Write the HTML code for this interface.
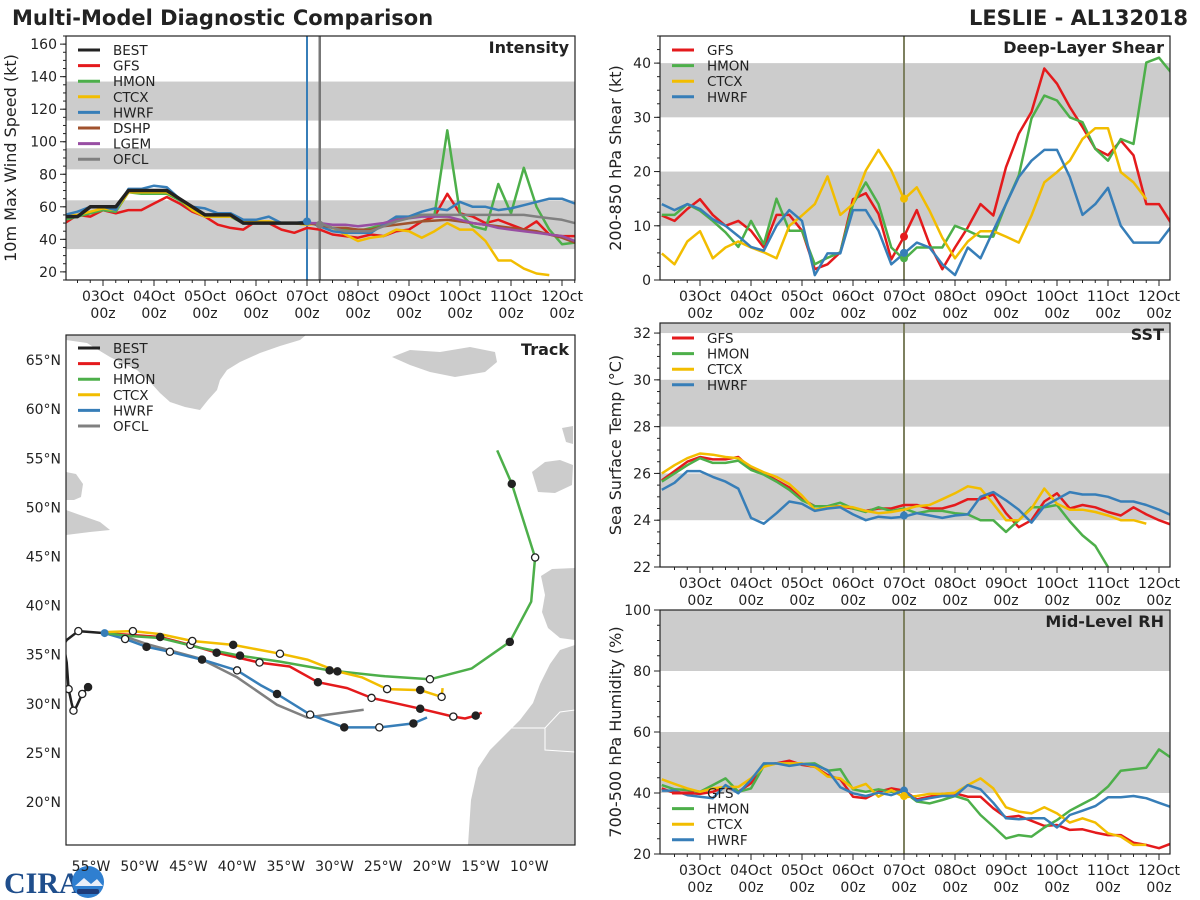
<!DOCTYPE html>
<html><head><meta charset="utf-8">
<style>
html,body{margin:0;padding:0;background:#fff;}
svg{display:block;font-family:"DejaVu Sans","Liberation Sans",sans-serif;}
</style></head>
<body>
<svg id="fig" width="1200" height="900" viewBox="0 0 1200 900" xmlns="http://www.w3.org/2000/svg">
<rect x="0" y="0" width="1200" height="900" fill="#fff"/>
<text x="12" y="25" font-size="21" font-weight="bold" fill="#222">Multi-Model Diagnostic Comparison</text>
<text x="1188" y="25" font-size="21" font-weight="bold" fill="#222" text-anchor="end">LESLIE - AL132018</text>
<g>
<text x="4" y="893" font-size="30" font-weight="bold" fill="#1f4e8c" font-family="Liberation Serif, serif">CIRA</text>
<circle cx="88" cy="882" r="16" fill="#2f7fd0"/>
<path d="M75 886 L84 878 L91 884 L97 879 L103 886 Z" fill="#e8eef8"/>
<rect x="77" y="889" width="22" height="5" rx="2" fill="#1d3c7a"/>
</g>
<g id="root"></g>
</svg>
<script>
// ---------------- DATA ----------------
// time index i => hours from 03Oct00z: t = -18 + 6*i
const intBEST = [54,54,60,60,60,70,70,70,70,65,60,55,55,55,50,50,50,50,50,50];
const intGFS  = [50,55,54,58,56,58,58,62,66,62,57,54,49,47,46,51,50,46,44,47,46,43,42,41,43,42,45,46,51,54,68,56,54,50,52,49,46,51,43,42,42];
const intHMON = [52,54,56,58,57,69,68,68,68,64,58,54,54,54,50,50,50,50,50,49,50,47,46,45,47,49,53,54,55,55,107,56,48,46,74,56,84,60,46,37,38];
const intCTCX = [54,55,57,59,58,69,69,69,69,65,58,54,54,54,51,51,51,50,50,49,50,47,43,39,41,42,46,45,41,45,50,46,46,39,27,27,22,19,18];
const intHWRF = [55,57,60,60,58,71,71,73,72,65,60,59,56,56,52,52,54,50,50,51,48,45,44,44,44,49,54,54,57,59,58,63,60,60,58,59,61,63,65,65,62];
const intDSHP = [50,49,47,47,46,46,48,49,50,51,51.5,52,51,50,49,48,47,46,45,43,41,38];
const intLGEM = [50,50,49,49,48,49,50,52,53,54,54,54,52,50,49,47,46,45,44,43,42,39];
const intOFCL = [50,47,45,45,45,48,51,53,55,55,55,55,55,55,55,55,55,54,53,52,50];

const shrGFS  = [11.9,10.9,13.1,14.9,12,10,10.9,9.1,6,12,12,9.1,2,2.9,5.1,14.9,16,12.2,3.8,8,12.9,6.6,2,6,9.7,14,11.9,20.8,27,31,39,36.2,31.9,28.2,24.2,23,25.7,23,14,14,10.3];
const shrHMON = [12,12,14,12.8,10.9,8.8,6.1,10.9,6.6,15,9.1,9.1,2.9,4.1,5.1,14,18,14,6,3.8,6,6,6,10,9.1,8,8,14,19.3,29.8,34,33.1,30,29.1,24.2,22,26,25.1,40.1,41,38.1];
const shrCTCX = [4.9,2.9,7.1,9,4,6,7.1,6,5.1,4,10,11.9,14,19.1,12,14,20.2,24,20.2,14.9,17.1,12.8,7.8,4,7.1,9,9,8,6.9,11.9,18,19.9,22,26,28,28,19.9,18,14.9];
const shrHWRF = [14,12.9,14,13.1,11.2,10,8.1,6.1,5.4,10,12.9,10.9,0.9,4.9,4.9,12.9,12.9,9.1,2.9,4.9,6.9,6,2.9,0.9,6,4,9.1,14,19,22,24,24,19,12,14,17,10,6.9,6.9,6.9,10];

const sstGFS  = [25.7,26.1,26.5,26.7,26.6,26.6,26.7,26.2,26.0,25.7,25.4,24.9,24.6,24.6,24.6,24.5,24.4,24.5,24.5,24.65,24.65,24.5,24.5,24.65,24.9,24.9,25.1,24.3,23.7,24.0,24.8,25.15,24.5,24.65,24.55,24.35,24.2,24.55,24.25,24.0,23.8];
const sstHMON = [25.65,26.0,26.35,26.65,26.45,26.45,26.55,26.15,25.95,25.65,25.3,24.85,24.6,24.6,24.75,24.5,24.35,24.55,24.4,24.5,24.3,24.4,24.4,24.3,24.25,24.0,24.0,23.5,24.0,24.55,24.55,24.65,23.95,23.35,22.9,22.0];
const sstCTCX = [26.0,26.35,26.65,26.85,26.8,26.7,26.65,26.3,26.05,25.85,25.55,25.05,24.45,24.55,24.6,24.55,24.4,24.3,24.35,24.45,24.6,24.65,24.9,25.15,25.45,25.35,24.7,24.0,24.0,24.5,25.35,24.7,24.45,24.45,24.35,24.2,24.0,24.0,23.85];
const sstHWRF = [25.3,25.6,26.1,26.1,25.85,25.65,25.35,24.1,23.85,24.3,24.8,24.7,24.4,24.5,24.55,24.25,24.0,24.15,24.1,24.15,24.3,24.2,24.1,24.2,24.25,25.0,25.2,24.85,24.45,23.9,24.6,24.9,25.2,25.1,25.1,25.0,24.8,24.8,24.65,24.45,24.2];

const rhGFS  = [41.5,40,40,39.7,40.4,42,40.4,43.2,49.2,49.7,50.6,49.2,48.6,45.9,44.5,38.8,38.3,40.4,41.5,40.8,37.9,38.8,39.7,39.9,38.8,38.8,35,32,32.5,30.9,29.2,29.5,27.9,28.1,27,26.2,26.2,23.7,23,21.9,23.5];
const rhHMON = [42.6,41.2,41,40.4,42.6,44.8,40.4,41.5,48.9,49.7,49.7,49.5,49.7,47.3,47.8,41.2,40.4,41.2,40.4,40.4,37.2,36.6,37.7,39,37.7,32.8,29,25.1,26.2,25.7,28.7,31.1,34.2,36.4,38.6,42.1,47.3,47.8,48.3,54.3,51.4];
const rhCTCX = [44.5,43,41.5,40.4,41.5,42,42,44.8,48.6,49.7,49.7,49.7,48.6,45.4,44.8,41.5,43,38.8,41,38.6,39,39.7,39.7,40.1,42.6,44.8,41.5,35.3,33.9,33.3,35.3,33.3,30.3,31.7,30.3,26.8,25.7,23,23];
const rhHWRF = [40.8,40.8,39.3,38.8,38.3,42.6,39.9,44.3,49.7,49.7,48.9,49.5,49.2,47.5,41.9,39.9,39,40.1,39.3,40.8,37.5,38.3,39,39,42.6,41.2,36.8,31.7,31.4,31.7,31.7,28.7,32.8,34.2,35.7,38.6,38.6,39,38.3,36.8,35.3];

// track (lon negative = W)
const trkBESTlon = [-55.3,-55.9,-56.5,-56.8,-57.0,-57.3,-57.5,-57.8,-57.5,-56.3,-53.6];
const trkBESTlat = [31.7,31.0,29.7,29.3,30.1,31.5,34.2,36.0,36.5,37.4,37.2];
const trkGFSlon = [-53.6,-47.9,-44.8,-42.1,-39.9,-37.7,-34.6,-31.7,-28.7,-26.2,-21.2,-17.8,-16.6,-15.5,-14.9];
const trkGFSlat = [37.2,36.8,36.0,35.2,34.7,34.2,33.8,32.2,31.6,30.6,29.5,28.7,28.5,28.8,29.1];
const trkHMONlon = [-53.6,-51.0,-47.9,-43.8,-39.7,-35.6,-30.5,-24.8,-20.2,-15.9,-12.0,-9.8,-9.4,-11.8,-13.3];
const trkHMONlat = [37.2,36.9,36.7,35.7,34.9,34.3,33.4,32.8,32.5,33.6,36.3,40.4,44.9,52.4,55.8];
const trkCTCXlon = [-53.6,-50.7,-47.9,-44.6,-40.4,-35.6,-32.8,-29.7,-27.2,-24.6,-21.2,-19.0,-18.9];
const trkCTCXlat = [37.3,37.4,37.1,36.4,36.0,35.1,34.5,33.3,32.7,31.5,31.4,30.7,31.6];
const trkHWRFlon = [-53.6,-51.5,-49.3,-46.9,-43.6,-40.0,-37.6,-35.9,-32.5,-29.0,-25.4,-21.9,-20.5];
const trkHWRFlat = [37.2,36.6,35.8,35.3,34.5,33.4,31.9,31.0,28.9,27.6,27.6,28.0,28.6];
const trkOFCLlon = [-53.6,-52.5,-49.3,-43.8,-40.0,-35.9,-32.8,-27.0];
const trkOFCLlat = [37.2,37.2,36.1,34.6,32.7,29.9,28.6,29.4];
// markers: [vertex index, filled(1)/hollow(0)]
const mkBEST = [[0,1],[1,0],[3,0],[5,0],[9,0]];
const mkGFS  = [[1,1],[2,0],[3,1],[5,0],[7,1],[9,0],[10,1],[11,0],[13,1]];
const mkHMON = [[4,1],[6,1],[8,0],[10,1],[12,0],[13,1]];
const mkCTCX = [[1,0],[3,0],[4,1],[5,0],[7,1],[9,0],[10,1],[11,0]];
const mkHWRF = [[1,0],[2,1],[3,0],[4,1],[5,0],[7,1],[8,0],[9,1],[10,0],[11,1]];

const dayLabels = ["03Oct","04Oct","05Oct","06Oct","07Oct","08Oct","09Oct","10Oct","11Oct","12Oct"];
const intTicks = [20,40,60,80,100,120,140,160];
const shrTicks = [0,10,20,30,40];
const sstTicks = [22,24,26,28,30,32];
const rhTicks = [20,40,60,80,100];
const lonTicks = [-55,-50,-45,-40,-35,-30,-25,-20,-15,-10];
const latTicks = [20,25,30,35,40,45,50,55,60,65];

const COL = {BEST:"#222222",GFS:"#e41a1c",HMON:"#4daf4a",CTCX:"#f2bd00",HWRF:"#377eb8",DSHP:"#a0522d",LGEM:"#984ea3",OFCL:"#808080"};

// ---------------- DRAW ----------------
const NS="http://www.w3.org/2000/svg";
const root=document.getElementById('root');
function mk(tag,attrs,parent){const e=document.createElementNS(NS,tag);for(const k in attrs)e.setAttribute(k,attrs[k]);(parent||root).appendChild(e);return e;}
function txt(s,attrs,parent){const e=mk('text',attrs,parent);e.textContent=s;return e;}

let clipN=0;
function tsPanel(cfg){
  const g=mk('g',{});
  
  
  const {x0,x1,y0,y1,vmin,vmax,day0}=cfg;
  const X=t=>day0+t*51/24;
  const Y=v=>y1-(v-vmin)/(vmax-vmin)*(y1-y0);
  const id='clip'+(clipN++);
  const cp=mk('clipPath',{id:id},g);mk('rect',{x:x0,y:y0,width:x1-x0,height:y1-y0},cp);
  const inner=mk('g',{'clip-path':'url(#'+id+')'},g);
  cfg.bands.forEach(b=>{
    const r=mk('rect',{x:x0,y:Y(b[1]),width:x1-x0,height:Y(b[0])-Y(b[1]),fill:'#cccccc'},inner);
    
    
  });
  cfg.vlines.forEach(v=>{mk('line',{x1:X(v[0]),x2:X(v[0]),y1:y0,y2:y1,stroke:v[1],'stroke-width':v[2]},inner);});
  cfg.series.forEach(s=>{
    const st=s.start||0;
    const pts=s.data.map((v,k)=>X(-18+6*(st+k)).toFixed(1)+','+Y(v).toFixed(1)).join(' ');
    const pl=mk('polyline',{points:pts,fill:'none',stroke:COL[s.key],'stroke-width':s.key==='BEST'?3.5:2.5,'stroke-linejoin':'round'},inner);
    
    
  });
  (cfg.dots||[]).forEach(d=>{mk('circle',{cx:X(d[0]),cy:Y(d[1]),r:4,fill:COL[d[2]]},inner);});
  mk('rect',{x:x0,y:y0,width:x1-x0,height:y1-y0,fill:'none',stroke:'#222','stroke-width':1.2},g);
  cfg.yticks.forEach(v=>{
    mk('line',{x1:x0-6,x2:x0,y1:Y(v),y2:Y(v),stroke:'#222'},g);
    const t=txt(String(v),{x:x0-9,y:Y(v)+5,'font-size':14,'text-anchor':'end',fill:'#222'},g);
    
    
  });
  for(let v=vmin;v<=vmax;v+=cfg.yminor){mk('line',{x1:x0-3,x2:x0,y1:Y(v),y2:Y(v),stroke:'#222'},g);}
  for(let t=-12;t<=228;t+=6){const x=X(t);if(x<x0||x>x1)continue;mk('line',{x1:x,x2:x,y1:y1,y2:y1+(t%24===0?6:3),stroke:'#222'},g);}
  dayLabels.forEach((d,k)=>{
    const x=X(24*k);
    const a=txt(d,{x:x,y:y1+21,'font-size':14,'text-anchor':'middle',fill:'#222'},g);
    
    
    txt('00z',{x:x,y:y1+38,'font-size':14,'text-anchor':'middle',fill:'#222'},g);
  });
  const yt=txt(cfg.ytitle,{x:0,y:0,'font-size':16,'text-anchor':'middle',fill:'#222',transform:`translate(${cfg.ytx},${(y0+y1)/2}) rotate(-90)`},g);
  
  
  const pt=txt(cfg.title,{x:x1-6,y:y0+17,'font-size':16,'font-weight':'bold','text-anchor':'end',fill:'#222'},g);
  
  
  legend(g,x0+12,cfg.legY,cfg.legend);
}
function legend(g,x,y,keys){
  keys.forEach((k,j)=>{
    const yy=y+j*15.6;
    const e=mk('g',{},g);
    
    
    mk('line',{x1:x,x2:x+22,y1:yy,y2:yy,stroke:COL[k],'stroke-width':3},e);
    txt(k,{x:x+35,y:yy+5,'font-size':13.5,fill:'#222'},e);
  });
}

tsPanel({name:'intensity-panel',x0:66,x1:575,y0:36,y1:280,vmin:15,vmax:165,day0:103,
  bands:[[34,64],[83,96],[113,137]],vlines:[[96,'#377eb8',2],[102,'#777',2.5]],
  series:[{key:'GFS',data:intGFS},{key:'HMON',data:intHMON},{key:'CTCX',data:intCTCX},{key:'HWRF',data:intHWRF},{key:'DSHP',data:intDSHP,start:19},{key:'LGEM',data:intLGEM,start:19},{key:'OFCL',data:intOFCL,start:20},{key:'BEST',data:intBEST}],
  dots:[[96,51,'HWRF'],[102,49,'OFCL']],
  yticks:intTicks,yminor:5,ytitle:'10m Max Wind Speed (kt)',ytx:16,title:'Intensity',legY:50,
  legend:['BEST','GFS','HMON','CTCX','HWRF','DSHP','LGEM','OFCL']});
tsPanel({name:'shear-panel',x0:660,x1:1170,y0:36,y1:280,vmin:0,vmax:45,day0:700,
  bands:[[10,20],[30,40]],vlines:[[96,'#7d8060',2]],
  series:[{key:'GFS',data:shrGFS},{key:'HMON',data:shrHMON},{key:'CTCX',data:shrCTCX},{key:'HWRF',data:shrHWRF}],
  dots:[[96,8,'GFS'],[96,15,'CTCX'],[96,4,'HMON'],[96,5,'HWRF']],
  yticks:shrTicks,yminor:2.5,ytitle:'200-850 hPa Shear (kt)',ytx:621,title:'Deep-Layer Shear',legY:50,
  legend:['GFS','HMON','CTCX','HWRF']});
tsPanel({name:'sst-panel',x0:660,x1:1170,y0:323,y1:567,vmin:22,vmax:32.43,day0:700,
  bands:[[24,26],[28,30],[32,34]],vlines:[[96,'#7d8060',2]],
  series:[{key:'GFS',data:sstGFS},{key:'HMON',data:sstHMON},{key:'CTCX',data:sstCTCX},{key:'HWRF',data:sstHWRF}],
  dots:[[96,24.2,'HWRF']],
  yticks:sstTicks,yminor:0.5,ytitle:'Sea Surface Temp (°C)',ytx:621,title:'SST',legY:338,
  legend:['GFS','HMON','CTCX','HWRF']});
tsPanel({name:'rh-panel',x0:660,x1:1170,y0:610,y1:854,vmin:20,vmax:100,day0:700,
  bands:[[40,60],[80,100]],vlines:[[96,'#7d8060',2]],
  series:[{key:'GFS',data:rhGFS},{key:'HMON',data:rhHMON},{key:'CTCX',data:rhCTCX},{key:'HWRF',data:rhHWRF}],
  dots:[[96,40.8,'HWRF'],[96,39,'CTCX']],
  yticks:rhTicks,yminor:5,ytitle:'700-500 hPa Humidity (%)',ytx:621,title:'Mid-Level RH',legY:793,
  legend:['GFS','HMON','CTCX','HWRF']});

// ---- track map ----
(function(){
  const x0=66,x1=575,y0=335,y1=845;
  const LX=lon=>91+(lon+55)*9.74;
  const LY=lat=>802-(lat-20)*9.82;
  const g=mk('g',{});
  
  
  const cp=mk('clipPath',{id:'clipTrack'},g);mk('rect',{x:x0,y:y0,width:x1-x0,height:y1-y0},cp);
  const inner=mk('g',{'clip-path':'url(#clipTrack)'},g);
  const land='#cccccc';
  const polys=[
    ['greenland','66,335 306,335 300,340 280,346 260,353 240,362 227,370 220,380 217,390 208,400 200,410 185,407 170,402 160,393 150,382 137,370 120,362 110,357 95,348 87,343 66,340'],
    ['iceland','392,357 410,350 440,352 470,347 495,352 497,362 485,372 455,377 430,372 410,365'],
    ['newfoundland','66,472 76,474 83,484 81,497 74,500 66,500'],
    ['nova-scotia','66,510 80,515 100,522 110,530 90,532 66,535'],
    ['iberia','541,576 552,569 575,568 575,640 560,638 548,628 542,612 545,595'],
    ['africa','575,645 560,650 550,664 540,684 533,703 520,720 505,735 490,750 478,768 471,800 468,845 575,845'],
    ['ireland','532,472 545,462 560,460 573,465 572,485 555,493 538,492'],
    ['uk','562,428 573,426 573,444 566,442']
  ];
  polys.forEach(p=>{const e=mk('polygon',{points:p[1],fill:land},inner);});
  mk('polyline',{points:'510,728 545,728 545,750 575,752',stroke:'#fff','stroke-width':1,fill:'none'},inner);
  mk('polyline',{points:'545,728 560,712 575,710',stroke:'#fff','stroke-width':1,fill:'none'},inner);
  const tracks=[['OFCL',trkOFCLlon,trkOFCLlat,[]],['HWRF',trkHWRFlon,trkHWRFlat,mkHWRF],['GFS',trkGFSlon,trkGFSlat,mkGFS],['HMON',trkHMONlon,trkHMONlat,mkHMON],['CTCX',trkCTCXlon,trkCTCXlat,mkCTCX],['BEST',trkBESTlon,trkBESTlat,mkBEST]];
  tracks.forEach(t=>{
    const pts=t[1].map((lo,k)=>LX(lo).toFixed(1)+','+LY(t[2][k]).toFixed(1)).join(' ');
    const pl=mk('polyline',{points:pts,fill:'none',stroke:COL[t[0]],'stroke-width':2.5,'stroke-linejoin':'round'},inner);
    
    
  });
  tracks.forEach(t=>{
    t[3].forEach(m=>{
      const c=mk('circle',{cx:LX(t[1][m[0]]),cy:LY(t[2][m[0]]),r:3.6,fill:m[1]?'#222':'#fff',stroke:'#222','stroke-width':1.3},inner);
      
      
    });
  });
  mk('circle',{cx:LX(-53.6),cy:LY(37.2),r:4,fill:COL.HWRF},inner);
  mk('rect',{x:x0,y:y0,width:x1-x0,height:y1-y0,fill:'none',stroke:'#222','stroke-width':1.2},g);
  lonTicks.forEach(l=>{const t=txt(Math.abs(l)+'°W',{x:LX(l),y:871,'font-size':14,'text-anchor':'middle',fill:'#222'},g);});
  latTicks.forEach(l=>{const t=txt(l+'°N',{x:61,y:LY(l)+5,'font-size':14,'text-anchor':'end',fill:'#222'},g);});
  const pt=txt('Track',{x:x1-6,y:y0+20,'font-size':16,'font-weight':'bold','text-anchor':'end',fill:'#222'},g);
  
  
  legend(g,78,348,['BEST','GFS','HMON','CTCX','HWRF','OFCL']);
})();
</script>
</body></html>
